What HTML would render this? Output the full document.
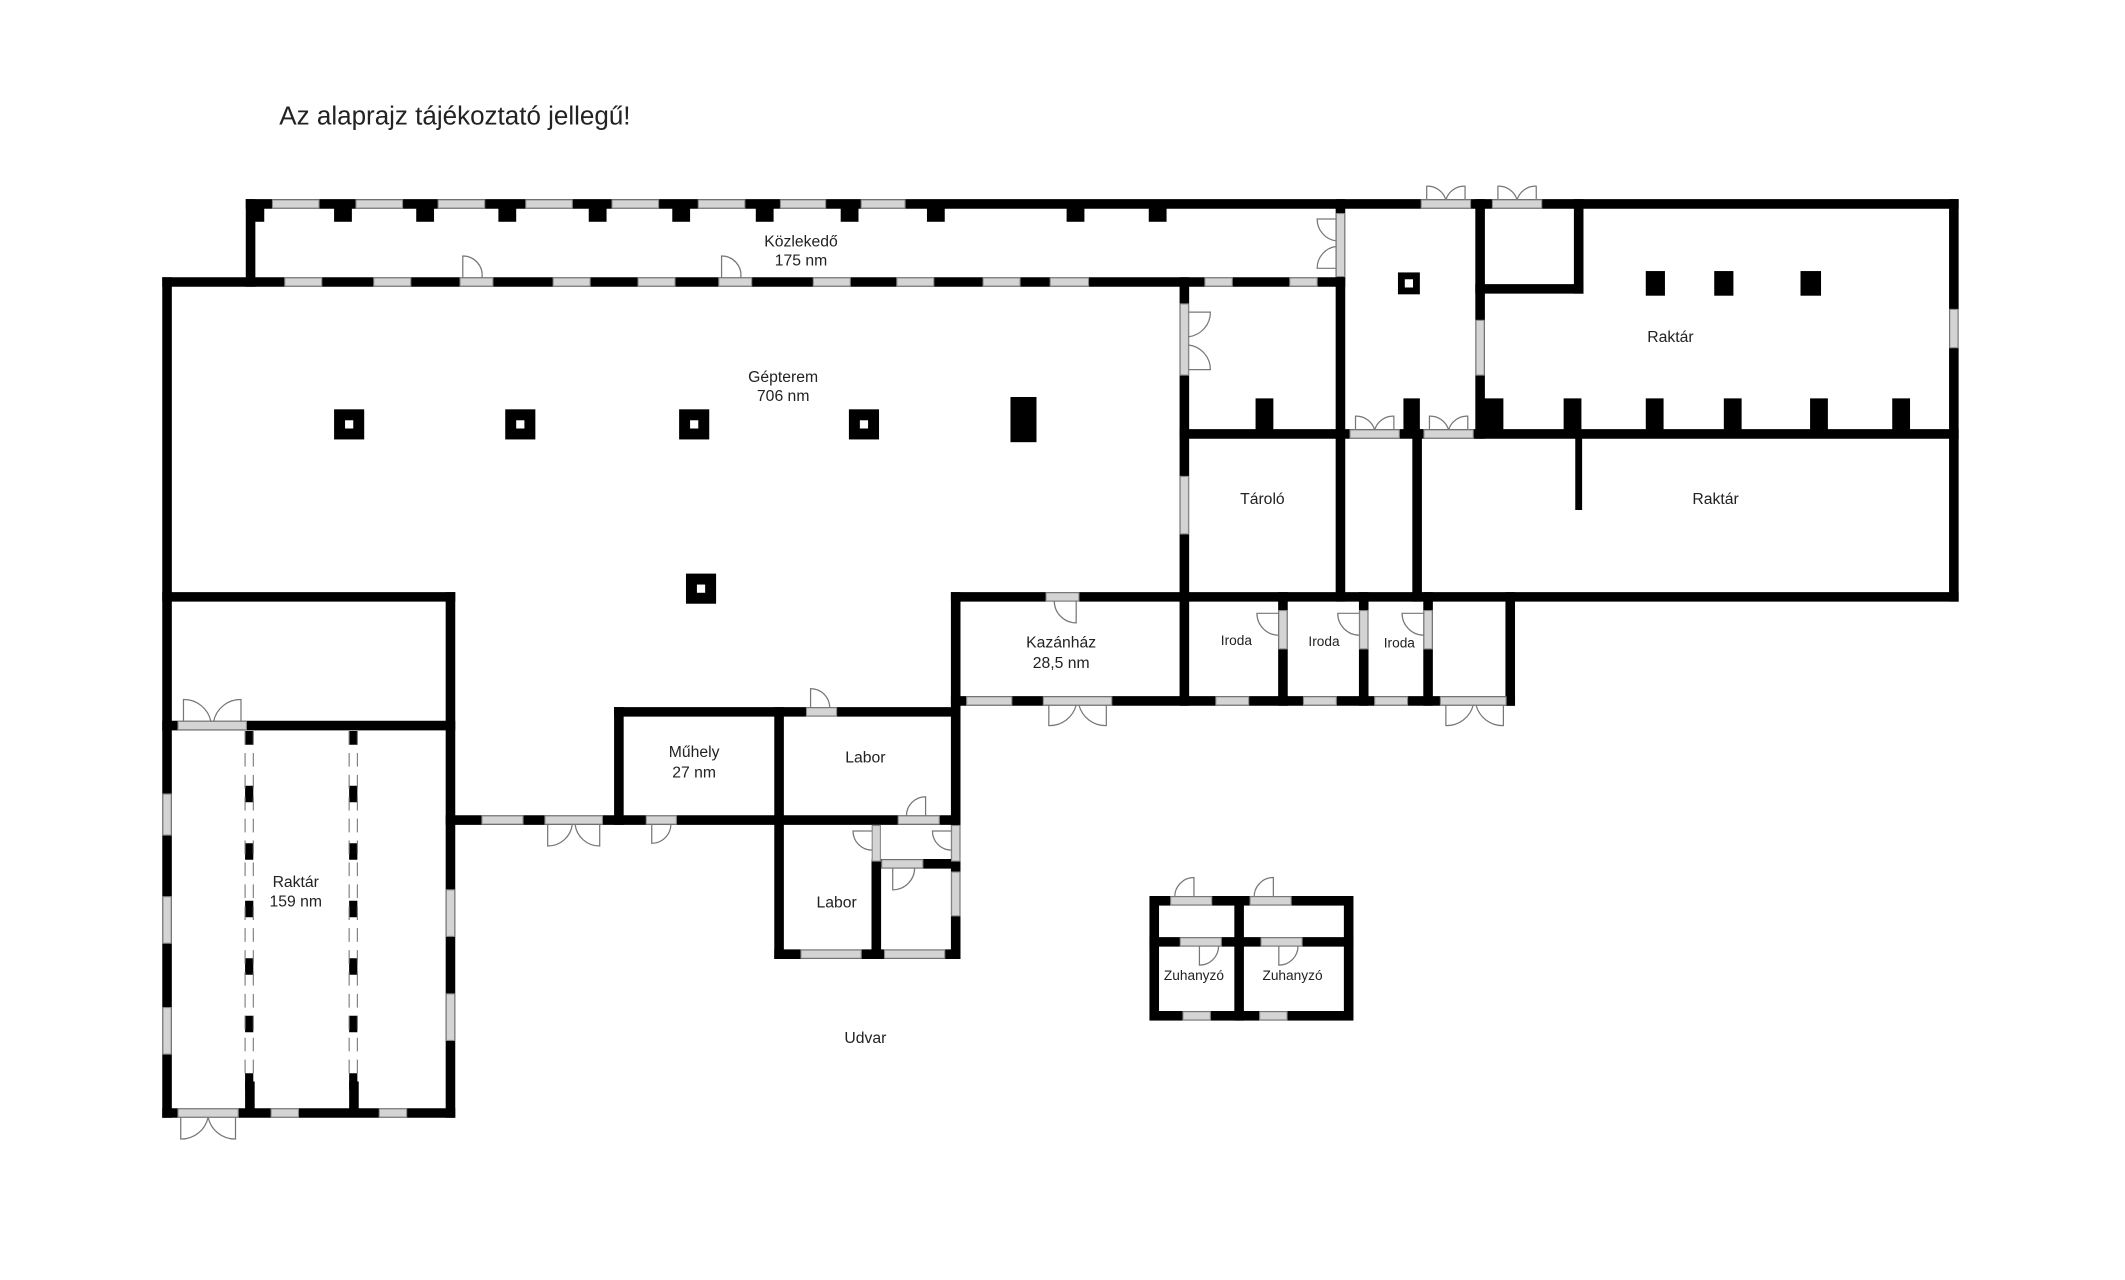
<!DOCTYPE html>
<html><head><meta charset="utf-8"><style>
html,body{margin:0;padding:0;background:#fff;}
svg{display:block}
text{font-family:"Liberation Sans",Arial,sans-serif;fill:#222;}
</style></head><body>
<svg width="2125" height="1280" viewBox="0 0 1552 935" preserveAspectRatio="none" xmlns="http://www.w3.org/2000/svg">
<rect width="1552" height="935" fill="#fff"/>
<text x="204" y="91" font-size="19" fill="#222">Az alaprajz tájékoztató jellegű!</text>
<g stroke="#000" stroke-width="7" stroke-linecap="square" fill="none">
<line x1="183" y1="149" x2="1427" y2="149"/>
<line x1="183" y1="149" x2="183" y2="206"/>
<line x1="122" y1="206" x2="979" y2="206"/>
<line x1="122" y1="206" x2="122" y2="813"/>
<line x1="979" y1="149" x2="979" y2="436"/>
<line x1="1081" y1="149" x2="1081" y2="317"/>
<line x1="1153" y1="149" x2="1153" y2="211"/>
<line x1="1081" y1="211" x2="1153" y2="211"/>
<line x1="1427" y1="149" x2="1427" y2="436"/>
<line x1="865" y1="317" x2="1427" y2="317"/>
<line x1="865" y1="206" x2="865" y2="512"/>
<line x1="1035" y1="317" x2="1035" y2="436"/>
<line x1="1153" y1="317" x2="1153" y2="370" stroke-width="5"/>
<line x1="698" y1="436" x2="1427" y2="436"/>
<line x1="698" y1="436" x2="698" y2="697"/>
<line x1="698" y1="512" x2="1103" y2="512"/>
<line x1="1103" y1="436" x2="1103" y2="512"/>
<line x1="937" y1="436" x2="937" y2="512"/>
<line x1="996" y1="436" x2="996" y2="512"/>
<line x1="1043" y1="436" x2="1043" y2="512"/>
<line x1="122" y1="436" x2="329" y2="436"/>
<line x1="329" y1="436" x2="329" y2="813"/>
<line x1="122" y1="530" x2="329" y2="530"/>
<line x1="122" y1="813" x2="329" y2="813"/>
<line x1="329" y1="599" x2="698" y2="599"/>
<line x1="452" y1="520" x2="452" y2="599"/>
<line x1="452" y1="520" x2="698" y2="520"/>
<line x1="569" y1="520" x2="569" y2="697"/>
<line x1="569" y1="697" x2="698" y2="697"/>
<line x1="640" y1="631" x2="640" y2="697"/>
<line x1="640" y1="631" x2="698" y2="631"/>
<rect x="843" y="658" width="142" height="84"/>
<line x1="905" y1="658" x2="905" y2="742"/>
<line x1="843" y1="688" x2="985" y2="688"/>
</g>
<g>
<line x1="182" y1="534" x2="182" y2="810" stroke="#000" stroke-width="6" stroke-dasharray="12 30" stroke-dashoffset="-40"/>
<line x1="258" y1="534" x2="258" y2="810" stroke="#000" stroke-width="6" stroke-dasharray="12 30" stroke-dashoffset="-40"/>
<g stroke="#777" stroke-width="0.8">
<line x1="179" y1="534" x2="179" y2="790" stroke-dasharray="10 6"/><line x1="185" y1="534" x2="185" y2="790" stroke-dasharray="10 6"/>
<line x1="255" y1="534" x2="255" y2="790" stroke-dasharray="10 6"/><line x1="261" y1="534" x2="261" y2="790" stroke-dasharray="10 6"/>
</g>
<rect x="179" y="790" width="7" height="20" fill="#000"/><rect x="255" y="790" width="7" height="20" fill="#000"/>
</g>
<g fill="#000">
<rect x="244" y="299" width="22" height="22"/><rect x="369" y="299" width="22" height="22"/>
<rect x="496" y="299" width="22" height="22"/><rect x="620" y="299" width="22" height="22"/>
<rect x="501" y="419" width="22" height="22"/>
<rect x="738" y="290" width="19" height="33"/>
<rect x="1021" y="199" width="16" height="16"/>
<rect x="1202" y="198" width="14" height="18"/><rect x="1252" y="198" width="14" height="18"/><rect x="1315" y="198" width="15" height="18"/>
<rect x="917" y="291" width="13" height="24"/><rect x="1025" y="291" width="12" height="24"/>
<rect x="1084" y="291" width="14" height="24"/><rect x="1142" y="291" width="13" height="24"/>
<rect x="1202" y="291" width="13" height="24"/><rect x="1259" y="291" width="13" height="24"/>
<rect x="1322" y="291" width="13" height="24"/><rect x="1382" y="291" width="13" height="24"/>
<rect x="183" y="150" width="10" height="12"/>
<rect x="244" y="150" width="13" height="12"/><rect x="304" y="150" width="13" height="12"/><rect x="364" y="150" width="13" height="12"/>
<rect x="430" y="150" width="13" height="12"/><rect x="491" y="150" width="13" height="12"/><rect x="552" y="150" width="13" height="12"/>
<rect x="614" y="150" width="13" height="12"/><rect x="677" y="150" width="13" height="12"/>
<rect x="779" y="150" width="13" height="12"/><rect x="839" y="150" width="13" height="12"/>
</g>
<g fill="#fff">
<rect x="252" y="307" width="6" height="6"/><rect x="377" y="307" width="6" height="6"/><rect x="504" y="307" width="6" height="6"/><rect x="628" y="307" width="6" height="6"/><rect x="509" y="427" width="6" height="6"/><rect x="1026" y="204" width="6" height="6"/>
</g>
<g fill="#d4d4d4" stroke="#888" stroke-width="0.8">
<rect x="199" y="146" width="34" height="6"/><rect x="260" y="146" width="34" height="6"/><rect x="320" y="146" width="34" height="6"/><rect x="384" y="146" width="34" height="6"/><rect x="447" y="146" width="34" height="6"/><rect x="510" y="146" width="34" height="6"/><rect x="570" y="146" width="33" height="6"/><rect x="629" y="146" width="32" height="6"/>
<rect x="208" y="203" width="27" height="6"/><rect x="273" y="203" width="27" height="6"/><rect x="336" y="203" width="24" height="6"/><rect x="404" y="203" width="27" height="6"/><rect x="466" y="203" width="27" height="6"/><rect x="525" y="203" width="24" height="6"/><rect x="594" y="203" width="27" height="6"/><rect x="655" y="203" width="27" height="6"/><rect x="718" y="203" width="27" height="6"/><rect x="767" y="203" width="28" height="6"/><rect x="880" y="203" width="20" height="6"/><rect x="942" y="203" width="20" height="6"/>
<rect x="1038" y="146" width="36" height="6"/><rect x="1090" y="146" width="36" height="6"/>
<rect x="986" y="314" width="36" height="6"/><rect x="1040" y="314" width="36" height="6"/>
<rect x="764" y="433" width="24" height="6"/>
<rect x="706" y="509" width="33" height="6"/><rect x="762" y="509" width="50" height="6"/><rect x="888" y="509" width="24" height="6"/><rect x="952" y="509" width="24" height="6"/><rect x="1004" y="509" width="24" height="6"/><rect x="1052" y="509" width="48" height="6"/>
<rect x="130" y="527" width="50" height="6"/>
<rect x="130" y="810" width="44" height="6"/><rect x="198" y="810" width="20" height="6"/><rect x="277" y="810" width="20" height="6"/>
<rect x="352" y="596" width="30" height="6"/><rect x="398" y="596" width="42" height="6"/><rect x="472" y="596" width="22" height="6"/>
<rect x="589" y="517" width="22" height="6"/><rect x="656" y="596" width="30" height="6"/>
<rect x="644" y="628" width="30" height="6"/>
<rect x="585" y="694" width="44" height="6"/><rect x="646" y="694" width="44" height="6"/>
<rect x="855" y="655" width="30" height="6"/><rect x="913" y="655" width="30" height="6"/>
<rect x="862" y="685" width="30" height="6"/><rect x="921" y="685" width="30" height="6"/>
<rect x="864" y="739" width="20" height="6"/><rect x="920" y="739" width="20" height="6"/>
</g>
<g fill="#d4d4d4" stroke="#888" stroke-width="0.8">
<rect x="976" y="156" width="6" height="46"/><rect x="862" y="222" width="6" height="52"/><rect x="862" y="348" width="6" height="42"/><rect x="1078" y="234" width="6" height="40"/><rect x="1424" y="226" width="6" height="28"/>
<rect x="119" y="580" width="6" height="30"/><rect x="119" y="655" width="6" height="34"/><rect x="119" y="736" width="6" height="34"/><rect x="326" y="650" width="6" height="34"/><rect x="326" y="726" width="6" height="34"/>
<rect x="934" y="446" width="6" height="28"/><rect x="993" y="446" width="6" height="28"/><rect x="1040" y="446" width="6" height="28"/>
<rect x="637" y="603" width="6" height="26"/><rect x="695" y="603" width="6" height="26"/><rect x="695" y="637" width="6" height="32"/>
</g>
<g fill="none" stroke="#777" stroke-width="0.9">
<path d="M338 203 V187 A14 14 0 0 1 352 203"/><path d="M527 203 V187 A14 14 0 0 1 541 203"/>
<path d="M1042 146 V136 A14 14 0 0 1 1056 146 M1070 146 V136 A14 14 0 0 0 1056 146"/>
<path d="M1094 146 V136 A14 14 0 0 1 1108 146 M1122 146 V136 A14 14 0 0 0 1108 146"/>
<path d="M976 160 H962 A16 16 0 0 0 976 176 M976 196 H962 A16 16 0 0 1 976 180"/>
<path d="M868 228 H884 A18 18 0 0 1 868 246 M868 270 H884 A18 18 0 0 0 868 252"/>
<path d="M990 314 V304 A14 14 0 0 1 1004 314 M1018 314 V304 A14 14 0 0 0 1004 314"/>
<path d="M1044 314 V304 A14 14 0 0 1 1058 314 M1072 314 V304 A14 14 0 0 0 1058 314"/>
<path d="M786 439 V455 A16 16 0 0 1 770 439"/>
<path d="M766 515 V530 A20 20 0 0 0 786 515 M808 515 V530 A20 20 0 0 1 788 515"/>
<path d="M1056 515 V530 A20 20 0 0 0 1076 515 M1098 515 V530 A20 20 0 0 1 1078 515"/>
<path d="M934 448 H918 A16 16 0 0 0 934 464"/><path d="M993 448 H977 A16 16 0 0 0 993 464"/><path d="M1040 448 H1024 A16 16 0 0 0 1040 464"/>
<path d="M134 527 V511 A20 20 0 0 1 154 527 M176 527 V511 A20 20 0 0 0 156 527"/>
<path d="M132 816 V832 A20 20 0 0 0 152 816 M172 816 V832 A20 20 0 0 1 152 816"/>
<path d="M400 602 V618 A18 18 0 0 0 418 602 M438 602 V618 A18 18 0 0 1 420 602"/>
<path d="M476 602 V616 A14 14 0 0 0 490 602"/>
<path d="M592 517 V503 A14 14 0 0 1 606 517"/>
<path d="M676 596 V582 A14 14 0 0 0 662 596"/>
<path d="M637 607 H623 A14 14 0 0 0 637 621"/><path d="M695 607 H681 A14 14 0 0 0 695 621"/>
<path d="M652 634 V650 A16 16 0 0 0 668 634"/>
<path d="M872 655 V641 A14 14 0 0 0 858 655"/><path d="M930 655 V641 A14 14 0 0 0 916 655"/>
<path d="M876 691 V705 A14 14 0 0 0 890 691"/><path d="M934 691 V705 A14 14 0 0 0 948 691"/>
</g>
<g font-size="11.5" text-anchor="middle">
<text x="585" y="180">Közlekedő</text><text x="585" y="194">175 nm</text>
<text x="572" y="279">Gépterem</text><text x="572" y="293">706 nm</text>
<text x="1220" y="250">Raktár</text><text x="1253" y="368">Raktár</text>
<text x="922" y="368">Tároló</text>
<text x="775" y="473">Kazánház</text><text x="775" y="488">28,5 nm</text>
<text x="903" y="471" font-size="10">Iroda</text><text x="967" y="472" font-size="10">Iroda</text><text x="1022" y="473" font-size="10">Iroda</text>
<text x="507" y="553">Műhely</text><text x="507" y="568">27 nm</text>
<text x="632" y="557">Labor</text><text x="611" y="663">Labor</text>
<text x="216" y="648">Raktár</text><text x="216" y="662">159 nm</text>
<text x="872" y="716" font-size="10">Zuhanyzó</text><text x="944" y="716" font-size="10">Zuhanyzó</text>
<text x="632" y="762">Udvar</text>
</g>
</svg>
</body></html>
